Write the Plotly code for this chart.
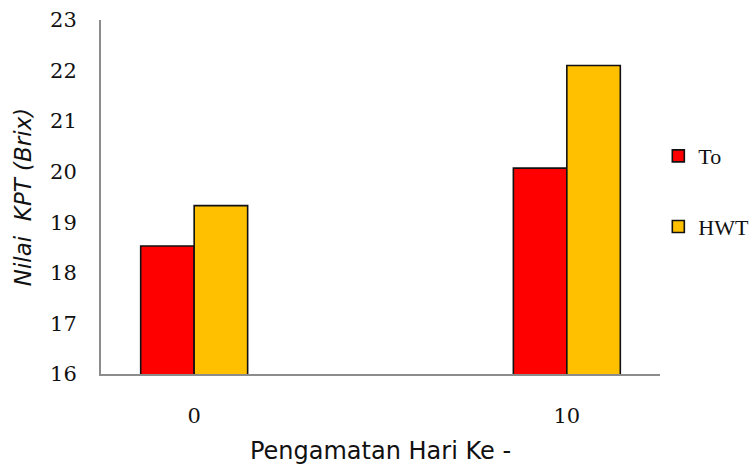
import plotly.graph_objects as go

days = ["0", "10"]
to_values = [18.53, 20.07]
hwt_values = [19.33, 22.1]
y_ticks = [16, 17, 18, 19, 20, 21, 22, 23]

serif = "'DejaVu Serif', 'Liberation Serif', serif"
legend_serif = "'Liberation Serif', 'DejaVu Serif', serif"
hand = "'Comic Sans MS', 'DejaVu Sans', sans-serif"

fig = go.Figure()
fig.add_trace(go.Bar(
    name="To", x=days, y=to_values, legendgroup="a",
    marker=dict(color="#ff0000", line=dict(color="#111111", width=1.6)),
))
fig.add_trace(go.Bar(
    name="HWT", x=days, y=hwt_values, legendgroup="b",
    marker=dict(color="#ffc000", line=dict(color="#111111", width=1.6)),
))

fig.update_layout(
    width=755, height=465,
    margin=dict(l=101, r=95, t=20, b=91, autoexpand=False),
    paper_bgcolor="white", plot_bgcolor="white",
    barmode="group", bargap=0.713, bargroupgap=0,
    font=dict(family=serif, size=21, color="#111111"),
    legend=dict(
        x=0.997, y=0.675, xanchor="left", yanchor="top",
        tracegroupgap=39, font=dict(family=legend_serif, size=22),
        itemwidth=30,
    ),
    xaxis=dict(
        type="category", range=[-0.25, 1.25], automargin=False,
        showline=True, linecolor="#8c8c8c", linewidth=2,
        ticks="", ticklabelstandoff=22,
        showgrid=False, zeroline=False,
        title=dict(text="Pengamatan Hari Ke -", standoff=18,
                   font=dict(family=hand, size=24)),
    ),
    yaxis=dict(
        range=[16, 23], tickvals=y_ticks, automargin=False,
        showline=True, linecolor="#8c8c8c", linewidth=2,
        ticks="", ticklabelstandoff=18,
        showgrid=False, zeroline=False,
        title=dict(text="<i>Nilai  KPT (Brix)</i>", standoff=12,
                   font=dict(family=hand, size=23)),
    ),
)

fig.write_html("out.html")
